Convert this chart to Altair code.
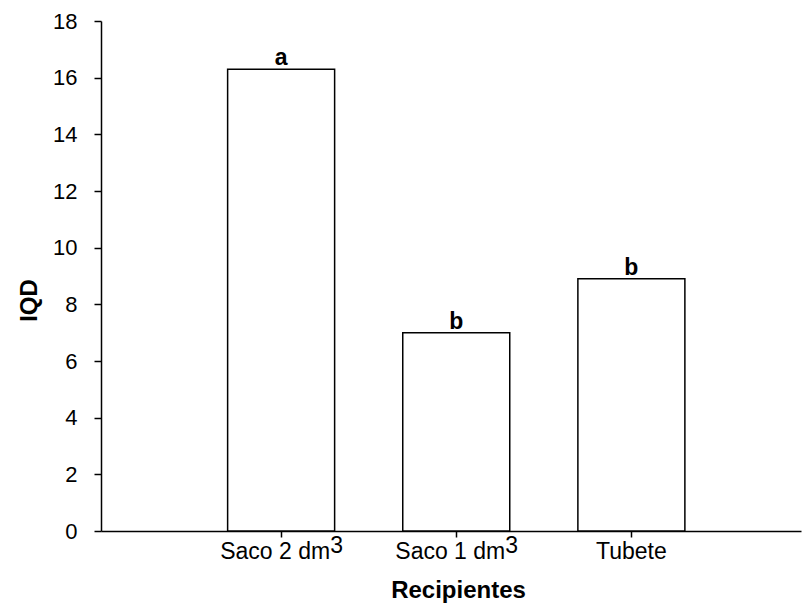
import altair as alt
import pandas as pd

label_main = ["Saco 2 dm", "Saco 1 dm", "Tubete"]
label_sup = ["3", "3", ""]
positions = [1, 2, 3]
iqd = [16.3, 7.0, 8.9]
letters = ["a", "b", "b"]
y_ticks = [0, 2, 4, 6, 8, 10, 12, 14, 16, 18]

df = pd.DataFrame({
    "pos": positions, "main": label_main, "sup": label_sup,
    "iqd": iqd, "letter": letters,
})

FONT = "Liberation Sans"
LBL = 23

x = alt.X(
    "pos:Q",
    scale=alt.Scale(domain=[0, 3.94], nice=False, zero=False),
    axis=alt.Axis(
        values=positions, labels=False, title="Recipientes", grid=False,
        domainColor="black", domainWidth=1.5, tickColor="black", tickWidth=1.5, tickSize=6,
        titleFont=FONT, titleFontSize=24, titleFontWeight="bold", titleColor="black",
        titleX=357, titleY=59, titleBaseline="middle", titleAlign="center",
    ),
)
y = alt.Y(
    "iqd:Q",
    scale=alt.Scale(domain=[0, 18], nice=False),
    axis=alt.Axis(
        values=y_ticks, title="IQD", grid=False,
        domainColor="black", domainWidth=1.5, tickColor="black", tickWidth=1.5, tickSize=7,
        labelFont=FONT, labelFontSize=22, labelColor="black", labelPadding=17,
        titleFont=FONT, titleFontSize=24, titleFontWeight="bold", titleColor="black",
        titleX=-72, titleY=279, titleBaseline="middle", titleAlign="center", titleAngle=270,
    ),
)

bars = alt.Chart(df).mark_bar(size=107, fill="white", stroke="black", strokeWidth=1.5).encode(x=x, y=y)

letters_layer = alt.Chart(df).mark_text(
    dy=-4, baseline="alphabetic", fontWeight="bold", fontSize=23, font=FONT, color="black"
).encode(x="pos:Q", y="iqd:Q", text="letter:N")

# tick labels with a raised superscript 3
with_sup = alt.Chart(df).transform_filter("datum.sup != ''")
main_sup = with_sup.mark_text(
    align="right", baseline="alphabetic", dx=49, dy=28, fontSize=LBL, font=FONT, color="black"
).encode(x="pos:Q", y=alt.datum(0), text="main:N")
sup = with_sup.mark_text(
    align="left", baseline="alphabetic", dx=49, dy=22, fontSize=LBL, font=FONT, color="black"
).encode(x="pos:Q", y=alt.datum(0), text="sup:N")
plain = alt.Chart(df).transform_filter("datum.sup == ''").mark_text(
    align="center", baseline="alphabetic", dy=28, fontSize=LBL, font=FONT, color="black"
).encode(x="pos:Q", y=alt.datum(0), text="main:N")

chart = (
    alt.layer(bars, letters_layer, main_sup, sup, plain)
    .properties(
        width=700, height=510,
        autosize=alt.AutoSizeParams(type="none"),
        padding={"left": 101, "top": 21, "right": 1, "bottom": 72},
        background="white",
    )
    .configure_view(stroke=None)
)

chart.save("out.html", embed_options={"renderer": "svg", "actions": False})
